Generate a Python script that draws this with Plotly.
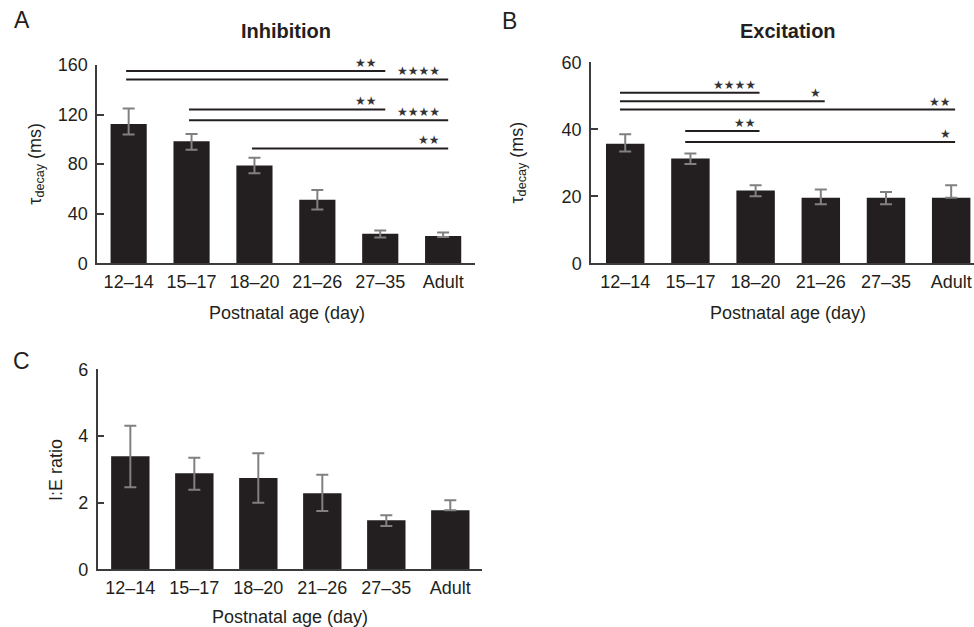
import plotly.graph_objects as go

# ---------------- data ----------------
ages = ["12–14", "15–17", "18–20", "21–26", "27–35", "Adult"]

inh_mean = [112.4, 98.4, 78.9, 51.3, 23.8, 22.1]
inh_err_plus = [12.5, 5.9, 6.2, 7.9, 2.6, 2.7]
inh_err_minus = [8.4, 6.8, 6.2, 7.8, 3.0, 0.8]

exc_mean = [35.7, 31.25, 21.7, 19.6, 19.6, 19.6]
exc_err_plus = [2.8, 1.5, 1.6, 2.4, 1.7, 3.7]
exc_err_minus = [2.3, 1.6, 1.7, 2.0, 2.0, 0.0]

ratio_mean = [3.39, 2.88, 2.74, 2.28, 1.47, 1.77]
ratio_err_plus = [0.92, 0.47, 0.74, 0.56, 0.15, 0.30]
ratio_err_minus = [0.93, 0.49, 0.74, 0.53, 0.17, 0.0]

# significance comparisons: (from index, to index, level, number of stars)
inh_sig_from = [0, 0, 1, 1, 2]
inh_sig_to = [4, 5, 4, 5, 5]
inh_sig_level = [155.1, 148.4, 124.1, 115.4, 92.7]
inh_sig_stars = [2, 4, 2, 4, 2]

exc_sig_from = [0, 0, 0, 1, 1]
exc_sig_to = [2, 3, 5, 2, 5]
exc_sig_level = [50.9, 48.4, 45.9, 39.5, 36.2]
exc_sig_stars = [4, 1, 2, 2, 1]

# ---------------- style / layout helpers ----------------
FONT = "Liberation Sans, Arial, sans-serif"
INK = "#231f20"
AXC = "#3c3c3c"
ERRC = "#808080"

W, H = 974, 627


def fx(px):
    return px / W


def fy(py):
    return 1 - py / H


fig = go.Figure()


def add_bars(xa, ya, means, ep, em, width):
    fig.add_trace(go.Bar(
        x=ages, y=means, xaxis=xa, yaxis=ya, width=width,
        marker=dict(color=INK, line=dict(width=0)),
        error_y=dict(type="data", symmetric=False, array=ep, arrayminus=em,
                     color=ERRC, thickness=2, width=6),
        showlegend=False, hoverinfo="skip"))


add_bars("x", "y", inh_mean, inh_err_plus, inh_err_minus, 0.575)
add_bars("x2", "y2", exc_mean, exc_err_plus, exc_err_minus, 0.59)
add_bars("x3", "y3", ratio_mean, ratio_err_plus, ratio_err_minus, 0.60)

shapes = []
annotations = []


def add_sig(xr, yr, f, t, lv, ns, off0, off1, xshift):
    for a, b, l, n in zip(f, t, lv, ns):
        shapes.append(dict(type="line", xref=xr, yref=yr, x0=a + off0, x1=b + off1,
                           y0=l, y1=l, line=dict(color=INK, width=2)))
        annotations.append(dict(xref=xr, yref=yr, x=b, y=l, text="★" * n, showarrow=False,
                                xanchor="right", yanchor="middle", xshift=xshift, yshift=8,
                                font=dict(family="DejaVu Sans", size=12, color="#333333")))


add_sig("x", "y", inh_sig_from, inh_sig_to, inh_sig_level, inh_sig_stars, -0.04, 0.08, -1)
add_sig("x2", "y2", exc_sig_from, exc_sig_to, exc_sig_level, exc_sig_stars, -0.08, 0.06, 2)


def ann(x, y, text, size, bold=False, angle=0):
    annotations.append(dict(xref="paper", yref="paper", x=fx(x), y=fy(y), text=text,
                            showarrow=False, xanchor="center", yanchor="middle",
                            textangle=angle,
                            font=dict(family=FONT, size=size, color=INK,
                                      weight="bold" if bold else "normal")))


ann(21.7, 20.3, "A", 23)
ann(509.5, 21.5, "B", 23)
ann(21.5, 361, "C", 23)
ann(286, 31.3, "Inhibition", 20, bold=True)
ann(788, 31.3, "Excitation", 20, bold=True)
ann(35.7, 164, "τ<sub>decay</sub> (ms)", 18, angle=-90)
ann(517.5, 163, "τ<sub>decay</sub> (ms)", 18, angle=-90)
ann(56, 470, "I:E ratio", 18, angle=-90)
ann(286.7, 313, "Postnatal age (day)", 18)
ann(788, 313, "Postnatal age (day)", 18)
ann(290, 617, "Postnatal age (day)", 18)

xcommon = dict(showline=True, linecolor=AXC, linewidth=1.5, ticks="", showgrid=False,
               zeroline=False, tickfont=dict(family=FONT, size=18, color=INK),
               ticklabelstandoff=1, fixedrange=True, automargin=False)
ycommon = dict(showline=True, linecolor=AXC, linewidth=1.5, ticks="inside", ticklen=7,
               tickcolor=AXC, tickwidth=1.5, showgrid=False, zeroline=False,
               tickfont=dict(family=FONT, size=18, color=INK), ticklabelstandoff=4,
               fixedrange=True, automargin=False)

fig.update_layout(
    template="none",
    width=W, height=H, margin=dict(l=0, r=0, t=0, b=0, autoexpand=False),
    paper_bgcolor="white", plot_bgcolor="white",
    xaxis=dict(xcommon, domain=[fx(97.2), fx(474.6)], range=[-0.5, 5.5], anchor="y"),
    yaxis=dict(ycommon, domain=[fy(263.3), fy(65)], range=[0, 160],
               tickvals=[0, 40, 80, 120, 160], anchor="x"),
    xaxis2=dict(xcommon, domain=[fx(591), 1.0], range=[-0.525, 5.35], anchor="y2"),
    yaxis2=dict(ycommon, domain=[fy(263.3), fy(62.3)], range=[0, 60],
                tickvals=[0, 20, 40, 60], anchor="x2"),
    xaxis3=dict(xcommon, domain=[fx(97.7), fx(482.3)], range=[-0.51, 5.5], anchor="y3"),
    yaxis3=dict(ycommon, domain=[fy(569.3), fy(369.3)], range=[0, 6],
                tickvals=[0, 2, 4, 6], anchor="x3"),
    shapes=shapes, annotations=annotations,
)

fig.write_html(
    "out.html",
    config={"displayModeBar": False},
    post_script="document.body.style.margin='0';document.body.style.overflow='hidden';",
)
